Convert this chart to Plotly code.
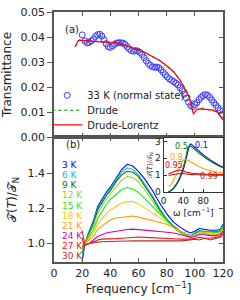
import plotly.graph_objects as go

# ---------------- Panel (a): transmittance ----------------
freq_a = [20, 22, 23.5, 25, 26.5, 28, 29.5, 31, 32.5, 34, 35.5, 37, 38.5, 40, 41.5, 43, 44.5,
          46, 47.5, 49, 50.5, 52, 53.5, 55, 56.5, 58, 59.5, 61, 62.5, 64, 65.5, 67, 68.5, 70,
          71.5, 73, 74.5, 76, 77.5, 79, 80.5, 82, 83.5, 85, 86.5, 88, 89.5, 91, 92.5, 94, 95.5,
          97, 98.5, 100, 101.5, 103, 104.5, 106, 107.5, 109, 110.5, 112, 113.5, 115, 116.5, 118, 119.5]
trans_33K = [0.0410, 0.0386, 0.0378, 0.0380, 0.0386, 0.0393, 0.0404, 0.0411, 0.0413, 0.0405,
             0.0390, 0.0375, 0.0363, 0.0360, 0.0365, 0.0372, 0.0377, 0.0379, 0.0378, 0.0377,
             0.0372, 0.0362, 0.0353, 0.0347, 0.0345, 0.0347, 0.0345, 0.0340, 0.0331, 0.0319,
             0.0306, 0.0295, 0.0287, 0.0282, 0.0280, 0.0281, 0.0278, 0.0270, 0.0260, 0.0250,
             0.0241, 0.0233, 0.0227, 0.0222, 0.0216, 0.0209, 0.0198, 0.0186, 0.0172, 0.0156,
             0.0140, 0.0126, 0.0122, 0.0130, 0.0138, 0.0150, 0.0160, 0.0167, 0.0170, 0.0168,
             0.0160, 0.0149, 0.0138, 0.0128, 0.0117, 0.0106, 0.0092]

freq_dl = [15, 16, 17, 18, 19, 22, 26, 30, 35, 40, 45, 48, 52, 56, 60, 65, 70, 75, 80, 85,
           90, 93, 95, 96.5, 98, 99, 100, 101.5, 104, 107, 110, 113, 116, 118, 120]
trans_dl = [0.0362, 0.0375, 0.0385, 0.0389, 0.0389, 0.0387, 0.0385, 0.0384, 0.0383, 0.0382,
            0.0378, 0.0373, 0.0366, 0.0358, 0.0350, 0.0338, 0.0324, 0.0307, 0.0286, 0.0261,
            0.0225, 0.0195, 0.0172, 0.0150, 0.0115, 0.0092, 0.0100, 0.0112, 0.0113, 0.0112,
            0.0108, 0.0108, 0.0100, 0.0085, 0.0069]

freq_dr = [15, 16, 17, 18, 19, 22, 26, 30, 35, 40, 45, 48, 52, 56, 60, 65, 70, 75, 80, 85,
           90, 93, 95, 96.5, 98, 100, 102, 104, 107, 110, 113, 116, 118, 120]
trans_dr = [0.0362, 0.0375, 0.0385, 0.0389, 0.0389, 0.0387, 0.0385, 0.0384, 0.0383, 0.0382,
            0.0378, 0.0373, 0.0366, 0.0358, 0.0350, 0.0338, 0.0324, 0.0307, 0.0286, 0.0261,
            0.0225, 0.0197, 0.0175, 0.0160, 0.0148, 0.0138, 0.0128, 0.0118, 0.0112, 0.0108,
            0.0107, 0.0099, 0.0085, 0.0069]

# ---------------- Panel (b): T(T)/T_N ----------------
freq_b = [20, 21, 22, 25, 28, 31, 34, 37, 40, 44, 48, 52, 56, 60, 65, 70, 75, 80, 85, 90,
          94, 97, 100, 103, 107, 111, 115, 118, 120]
temps = ["3 K", "6 K", "9 K", "12 K", "15 K", "18 K", "21 K", "24 K", "27 K", "30 K"]
temp_colors = ["#0000ff", "#00c4c4", "#007a00", "#9acd32", "#1ee81e",
               "#ffc800", "#ff9a00", "#c800c8", "#ff1010", "#b03030"]
r3 = [0.90, 0.95, 1.00, 1.07, 1.13, 1.21, 1.25, 1.29, 1.32, 1.37, 1.42, 1.45, 1.44, 1.41, 1.36,
      1.30, 1.23, 1.17, 1.12, 1.09, 1.07, 1.06, 1.07, 1.085, 1.08, 1.075, 1.075, 1.08, 1.11]
r6 = [0.93, 0.97, 1.00, 1.07, 1.12, 1.20, 1.24, 1.28, 1.31, 1.36, 1.405, 1.43, 1.42, 1.39, 1.33,
      1.27, 1.20, 1.14, 1.10, 1.07, 1.055, 1.045, 1.06, 1.075, 1.07, 1.07, 1.07, 1.075, 1.10]
r9 = [0.95, 0.98, 1.00, 1.06, 1.11, 1.19, 1.23, 1.27, 1.30, 1.35, 1.39, 1.41, 1.405, 1.38, 1.32,
      1.26, 1.19, 1.135, 1.095, 1.065, 1.05, 1.04, 1.055, 1.07, 1.065, 1.065, 1.065, 1.07, 1.09]
r12 = [0.96, 0.99, 1.00, 1.05, 1.10, 1.17, 1.21, 1.25, 1.28, 1.32, 1.36, 1.38, 1.375, 1.35, 1.30,
       1.24, 1.18, 1.13, 1.09, 1.06, 1.045, 1.04, 1.05, 1.065, 1.06, 1.06, 1.06, 1.065, 1.085]
r15 = [0.97, 0.99, 1.00, 1.04, 1.08, 1.14, 1.18, 1.22, 1.25, 1.28, 1.305, 1.318, 1.31, 1.29, 1.25,
       1.21, 1.17, 1.13, 1.09, 1.06, 1.045, 1.04, 1.05, 1.07, 1.065, 1.065, 1.06, 1.07, 1.10]
r18 = [0.98, 1.00, 1.00, 1.03, 1.06, 1.11, 1.14, 1.17, 1.19, 1.21, 1.23, 1.238, 1.238, 1.225, 1.20,
       1.175, 1.15, 1.12, 1.09, 1.065, 1.05, 1.04, 1.05, 1.06, 1.06, 1.06, 1.055, 1.06, 1.08]
r21 = [0.99, 1.00, 1.00, 1.02, 1.04, 1.08, 1.10, 1.12, 1.135, 1.145, 1.15, 1.155, 1.156, 1.15, 1.14,
       1.13, 1.12, 1.11, 1.09, 1.065, 1.05, 1.04, 1.045, 1.055, 1.055, 1.05, 1.05, 1.055, 1.075]
r24 = [0.98, 0.99, 0.995, 1.00, 1.02, 1.04, 1.05, 1.06, 1.064, 1.07, 1.075, 1.08, 1.082, 1.08, 1.077,
       1.072, 1.068, 1.064, 1.06, 1.05, 1.04, 1.035, 1.04, 1.05, 1.05, 1.045, 1.045, 1.05, 1.07]
r27 = [1.03, 1.00, 0.99, 1.00, 1.01, 1.02, 1.025, 1.025, 1.025, 1.028, 1.03, 1.033, 1.035, 1.037, 1.035,
       1.032, 1.03, 1.028, 1.027, 1.025, 1.025, 1.025, 1.03, 1.035, 1.03, 1.03, 1.035, 1.04, 1.06]
r30 = [1.075, 1.03, 0.99, 1.00, 1.005, 1.008, 1.01, 1.01, 1.011, 1.012, 1.013, 1.014, 1.015, 1.015, 1.013,
       1.012, 1.012, 1.013, 1.015, 1.015, 1.018, 1.02, 1.025, 1.02, 1.03, 1.02, 1.03, 1.035, 1.05]
ratios = [r3, r6, r9, r12, r15, r18, r21, r24, r27, r30]

# ---------------- Inset: model curves ----------------
freq_in = [10, 15, 20, 25, 30, 35, 40, 45, 50, 54, 58, 65, 70, 80, 90, 100, 110, 120]
inset_labels = ["0.1", "0.5", "0.8", "0.95", "0.99"]
inset_colors = ["#0000ff", "#008000", "#ffa500", "#ff0000", "#b22222"]
m01 = [0.03, 0.08, 0.22, 0.40, 0.63, 0.95, 1.35, 1.90, 2.50, 2.85, 2.78, 2.60, 2.47, 2.22, 2.00, 1.80, 1.62, 1.48]
m05 = [0.05, 0.10, 0.25, 0.45, 0.70, 1.05, 1.50, 2.05, 2.66, 2.72, 2.65, 2.48, 2.36, 2.12, 1.92, 1.74, 1.58, 1.44]
m08 = [0.35, 0.45, 0.70, 0.98, 1.30, 1.62, 1.90, 1.95, 1.88, 1.82, 1.75, 1.62, 1.54, 1.40, 1.30, 1.23, 1.18, 1.14]
m095 = [1.08, 1.14, 1.20, 1.26, 1.30, 1.30, 1.25, 1.20, 1.16, 1.14, 1.12, 1.10, 1.09, 1.07, 1.06, 1.05, 1.05, 1.04]
m099 = [1.00, 1.02, 1.05, 1.07, 1.09, 1.10, 1.10, 1.08, 1.06, 1.05, 1.04, 1.03, 1.03, 1.02, 1.02, 1.01, 1.01, 1.01]
models = [m01, m05, m08, m095, m099]
inset_label_pos = [(77, 2.75), (36, 2.68), (27, 2.07), (21, 1.6), (92, 0.95)]

FONT = "DejaVu Sans"
FRAME = "#555555"

fig = go.Figure()

# panel (a) -- each legend entry in its own legend box so rows can be spaced like the original
fig.add_trace(go.Scatter(x=freq_a, y=trans_33K, mode="markers", name="33 K (normal state)",
                         marker=dict(symbol="circle-open", size=6, color="#3a3aff",
                                     line=dict(width=1, color="#3a3aff")),
                         xaxis="x", yaxis="y", legend="legend"))
fig.add_trace(go.Scatter(x=freq_dr, y=trans_dr, mode="lines", name="Drude",
                         line=dict(color="#2ca02c", width=1.2, dash="dot"),
                         xaxis="x", yaxis="y", legend="legend2"))
fig.add_trace(go.Scatter(x=freq_dl, y=trans_dl, mode="lines", name="Drude-Lorentz",
                         line=dict(color="#ff0000", width=1.2),
                         xaxis="x", yaxis="y", legend="legend3"))

# panel (b)
for name, col, ys in zip(temps, temp_colors, ratios):
    fig.add_trace(go.Scatter(x=freq_b, y=ys, mode="lines", name=name, showlegend=False,
                             line=dict(color=col, width=1.1), xaxis="x2", yaxis="y2"))

# inset
for name, col, ys in zip(inset_labels, inset_colors, models):
    fig.add_trace(go.Scatter(x=freq_in, y=ys, mode="lines", name=name, showlegend=False,
                             line=dict(color=col, width=1.1, shape="spline"),
                             xaxis="x3", yaxis="y3"))

# empty traces for right-side tick axes
fig.add_trace(go.Scatter(x=[], y=[], xaxis="x", yaxis="y4", showlegend=False))
fig.add_trace(go.Scatter(x=[], y=[], xaxis="x2", yaxis="y5", showlegend=False))

tickfont = dict(family=FONT, size=11, color="#222222")
axis_common = dict(showgrid=False, zeroline=False, showline=True, linecolor=FRAME,
                   linewidth=1.5, tickcolor=FRAME, tickfont=tickfont)

leg_common = dict(xanchor="left", yanchor="middle", bgcolor="rgba(0,0,0,0)",
                  font=dict(family=FONT, size=10, color="#222222"))

fig.update_layout(
    width=240, height=300,
    margin=dict(l=46, r=12, t=6, b=36),
    paper_bgcolor="white", plot_bgcolor="white",
    font=dict(family=FONT, size=11, color="#222222"),
    hovermode=False,
    xaxis=dict(**axis_common, domain=[0, 1], anchor="y", range=[0, 120],
               tickvals=[0, 20, 40, 60, 80, 100, 120], showticklabels=False,
               ticks="inside", ticklen=4, mirror="ticks"),
    yaxis=dict(**axis_common, domain=[0.5, 1], anchor="x", range=[0, 0.0502],
               tickvals=[0, 0.01, 0.02, 0.03, 0.04, 0.05], tickformat=".2f",
               ticks="outside", ticklen=5, mirror=True,
               title=dict(text="Transmittance", font=dict(family=FONT, size=12), standoff=6)),
    yaxis4=dict(overlaying="y", side="right", anchor="x", range=[0, 0.0502],
                tickvals=[0, 0.01, 0.02, 0.03, 0.04, 0.05], ticks="inside", ticklen=4,
                tickcolor=FRAME, showticklabels=False, showline=False, showgrid=False,
                zeroline=False),
    xaxis2=dict(**axis_common, domain=[0, 1], anchor="y2", range=[0, 120],
                tickvals=[0, 20, 40, 60, 80, 100, 120], ticks="inside", ticklen=4,
                mirror="ticks",
                title=dict(text="Frequency [cm<sup>\u22121</sup>]", font=dict(family=FONT, size=12),
                           standoff=6)),
    yaxis2=dict(**axis_common, domain=[0, 0.5], anchor="x2", range=[0.895, 1.605],
                tickvals=[1.0, 1.2, 1.4], tickformat=".1f", ticks="outside", ticklen=5,
                mirror=True,
                title=dict(text="\U0001D4AF(<i>T</i>)/\U0001D4AF<sub>N</sub>",
                           font=dict(family=FONT, size=12), standoff=8)),
    yaxis5=dict(overlaying="y2", side="right", anchor="x2", range=[0.895, 1.605],
                tickvals=[1.0, 1.2, 1.4], ticks="inside", ticklen=4, tickcolor=FRAME,
                showticklabels=False, showline=False, showgrid=False, zeroline=False),
    xaxis3=dict(showgrid=False, zeroline=False, showline=True, linecolor="#333333",
                linewidth=1, mirror=True, domain=[0.648, 1.0], anchor="y3", range=[0, 120],
                tickvals=[0, 40, 80], ticks="inside", ticklen=3, tickcolor="#333333",
                tickfont=dict(family=FONT, size=9, color="#222222"),
                title=dict(text="\u03C9 [cm<sup>\u22121</sup>]", font=dict(family=FONT, size=9),
                           standoff=1)),
    yaxis3=dict(showgrid=False, zeroline=False, showline=True, linecolor="#333333",
                linewidth=1, mirror=True, domain=[0.279, 0.496], anchor="x3", range=[0, 3.2],
                tickvals=[0, 1, 2, 3], ticks="inside", ticklen=3, tickcolor="#333333",
                tickfont=dict(family=FONT, size=9, color="#222222"),
                title=dict(text="\U0001D4AF(<i>T</i>)/\U0001D4AF<sub>N</sub>",
                           font=dict(family=FONT, size=7), standoff=1)),
    legend=dict(x=-0.04, y=(264 - 92) / 258, **leg_common),
    legend2=dict(x=-0.04, y=(264 - 107.5) / 258, **leg_common),
    legend3=dict(x=-0.04, y=(264 - 122.5) / 258, **leg_common),
    showlegend=True,
)

# panel labels
fig.add_annotation(text="(a)", x=0.055, y=0.961, xref="paper", yref="paper", showarrow=False,
                   font=dict(family=FONT, size=10, color="#222222"))
fig.add_annotation(text="(b)", x=0.06, y=0.47, xref="paper", yref="paper", showarrow=False,
                   font=dict(family=FONT, size=10, color="#222222"))

# temperature labels
for i, (name, col) in enumerate(zip(temps, temp_colors)):
    py = 164 + i * 10.45
    fig.add_annotation(text=name, x=0.038, y=(264 - py) / 258, xref="paper", yref="paper",
                       xanchor="left", yanchor="middle", showarrow=False,
                       font=dict(family=FONT, size=9, color=col))

# inset labels
for name, col, (lx, ly) in zip(inset_labels, inset_colors, inset_label_pos):
    fig.add_annotation(text=name, x=lx, y=ly, xref="x3", yref="y3", showarrow=False,
                       font=dict(family=FONT, size=8, color=col))

fig.write_html("out.html", config={"displayModeBar": False},
               post_script="document.body.style.margin='0';document.body.style.overflow='hidden';")
